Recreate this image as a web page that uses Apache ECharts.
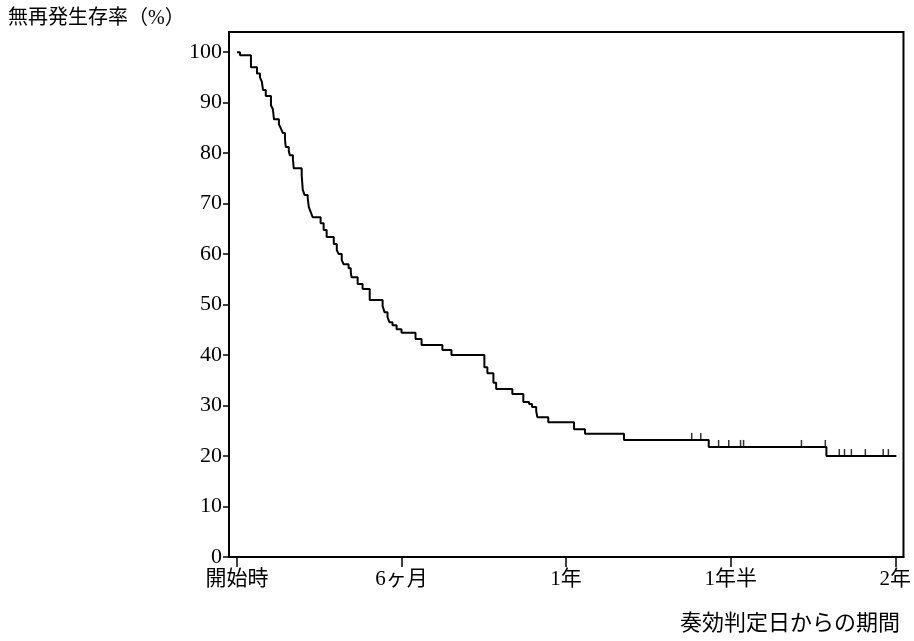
<!DOCTYPE html>
<html><head><meta charset="utf-8">
<script src="https://cdn.jsdelivr.net/npm/echarts@6/dist/echarts.min.js"></script>
<style>html,body{margin:0;padding:0;background:#fff}#c{width:914px;height:641px}</style>
</head><body><div id="c"></div>
<script>
// Kaplan-Meier step curve: time (months) of each drop, and survival (%) after it
const months = [0, 0.11, 0.51, 0.73, 0.84, 0.91, 0.95, 1.05, 1.24, 1.31, 1.35, 1.53, 1.60, 1.67, 1.75, 1.78, 1.89, 1.93, 2.04, 2.07,
  2.36, 2.40, 2.47, 2.58, 2.62, 2.69, 2.76, 3.05, 3.16, 3.27, 3.53, 3.64, 3.71, 3.82, 3.89, 4.07, 4.15, 4.18, 4.40, 4.58,
  4.84, 5.31, 5.38, 5.49, 5.56, 5.67, 5.82, 6.00, 6.51, 6.73, 7.49, 7.82, 9.02, 9.13, 9.35, 9.45, 10.04, 10.44, 10.65, 10.76,
  10.91, 10.95, 11.35, 12.29, 12.69, 14.11, 17.20, 21.49, 24.04];
const survival = [100, 99.4, 97.0, 95.8, 95.0, 94.1, 92.5, 91.3, 89.5, 88.7, 86.7, 85.7, 84.9, 84.0, 82.8, 81.2, 80.4, 79.6, 78.8, 77.0,
  75.6, 72.7, 71.7, 71.1, 69.3, 68.3, 67.3, 66.1, 64.8, 63.4, 62.0, 60.8, 60.0, 58.8, 58.0, 57.2, 56.4, 55.4, 54.1, 53.1,
  50.9, 49.7, 48.5, 47.5, 46.5, 45.9, 45.1, 44.4, 43.2, 42.0, 41.0, 40.0, 37.6, 36.4, 34.5, 33.3, 32.3, 30.7, 30.3, 29.7,
  28.9, 27.7, 26.7, 25.3, 24.4, 23.2, 21.8, 20.0, 20.0];
// censored observations
const censorMonths = [16.58, 16.91, 17.56, 17.93, 18.36, 18.47, 20.58, 21.45, 21.96, 22.15, 22.40, 22.91, 23.56, 23.75];
const censorSurvival = [23.2, 23.2, 21.8, 21.8, 21.8, 21.8, 21.8, 21.8, 20.0, 20.0, 20.0, 20.0, 20.0, 20.0];
const xTickValues = [0, 6, 12, 18, 24];
const xTickLabels = ['開始時', '6ヶ月', '1年', '1年半', '2年'];
const yTickValues = [0, 10, 20, 30, 40, 50, 60, 70, 80, 90, 100];
const yAxisTitle = '無再発生存率（%）';
const xAxisTitle = '奏効判定日からの期間';

const FONT = "'Liberation Serif', 'DejaVu Serif', 'Noto Sans CJK JP', serif";
const chart = echarts.init(document.getElementById('c'));
chart.setOption({
  animation: false,
  backgroundColor: '#fff',
  grid: { left: 229, top: 32, right: 9, bottom: 84, show: true, borderColor: '#000', borderWidth: 2, backgroundColor: 'transparent' },
  xAxis: {
    type: 'value', min: -0.29, max: 24.3,
    axisLine: { show: true, onZero: false, lineStyle: { color: '#000', width: 2 } },
    axisTick: { show: true, customValues: xTickValues, length: 10, lineStyle: { color: '#000', width: 1.5 } },
    axisLabel: { customValues: xTickValues, margin: 12, color: '#000', fontSize: 21, fontFamily: FONT,
      formatter: v => { const i = xTickValues.indexOf(v); return i >= 0 ? xTickLabels[i] : ''; } },
    splitLine: { show: false }
  },
  yAxis: {
    type: 'value', min: 0, max: 104,
    axisLine: { show: true, onZero: false, lineStyle: { color: '#000', width: 2 } },
    axisTick: { show: true, customValues: yTickValues, length: 6, lineStyle: { color: '#000', width: 1.5 } },
    axisLabel: { customValues: yTickValues, margin: 7, color: '#000', fontSize: 22, fontFamily: FONT },
    splitLine: { show: false }
  },
  graphic: [
    { type: 'text', left: 8, top: 9, style: { text: yAxisTitle, fontSize: 20, fontFamily: FONT, fill: '#000' } },
    { type: 'text', right: 14, top: 613, style: { text: xAxisTitle, fontSize: 22, fontFamily: FONT, fill: '#000' } }
  ],
  series: [
    { type: 'line', step: 'end', symbol: 'none', lineStyle: { color: '#000', width: 2 },
      data: months.map((m, i) => [m, survival[i]]) },
    { type: 'scatter', symbol: 'rect', symbolSize: [1.5, 7], symbolOffset: [0, -3.5], itemStyle: { color: '#000' },
      data: censorMonths.map((m, i) => [m, censorSurvival[i]]) }
  ]
});
</script></body></html>
